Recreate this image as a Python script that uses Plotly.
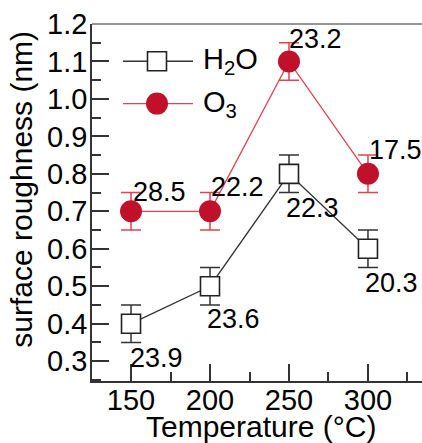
import plotly.graph_objects as go

temps = [150, 200, 250, 300]
h2o_rough = [0.4, 0.5, 0.8, 0.6]
o3_rough = [0.7, 0.7, 1.1, 0.8]
h2o_err = [0.05, 0.05, 0.05, 0.05]
o3_err = [0.05, 0.05, 0.05, 0.05]
h2o_labels = ["23.9", "23.6", "22.3", "20.3"]
o3_labels = ["28.5", "22.2", "23.2", "17.5"]

FONT = "Liberation Sans, Arial, sans-serif"
RED = "#c0102a"
RED_LINE = "#de4450"

fig = go.Figure()
fig.add_trace(go.Scatter(
    x=temps, y=h2o_rough, mode="lines+markers", name="H<sub>2</sub>O",
    line=dict(color="#333333", width=1.3),
    marker=dict(symbol="square", size=19, color="white",
                line=dict(color="#222222", width=1.6)),
    error_y=dict(type="data", array=h2o_err, color="#333333", thickness=1.5, width=10),
    showlegend=False))
fig.add_trace(go.Scatter(
    x=temps, y=o3_rough, mode="lines+markers", name="O<sub>3</sub>",
    line=dict(color=RED_LINE, width=1.3),
    marker=dict(symbol="circle", size=22, color=RED, line=dict(width=0)),
    error_y=dict(type="data", array=o3_err, color=RED_LINE, thickness=1.5, width=10),
    showlegend=False))

NUM = 27
annots = []
o3_shift = [(28, 19), (27, 24), (27, 22), (28, 24)]
for t, v, lab, (dx, dy) in zip(temps, o3_rough, o3_labels, o3_shift):
    annots.append(dict(x=t, y=v, xref="x", yref="y", text=lab, showarrow=False,
                       xshift=dx, yshift=dy, font=dict(family=FONT, size=NUM, color="black")))
h2o_shift = [(25, -34), (23, -33), (24, -34), (24, -34)]
for t, v, lab, (dx, dy) in zip(temps, h2o_rough, h2o_labels, h2o_shift):
    annots.append(dict(x=t, y=v, xref="x", yref="y", text=lab, showarrow=False,
                       xshift=dx, yshift=dy, font=dict(family=FONT, size=NUM, color="black")))


def px(xp):
    return (xp - 92) / 330


def py(yp):
    return (381 - yp) / 356.5


# axis titles
annots.append(dict(x=px(261), y=py(426), xref="paper", yref="paper",
                   text="Temperature (°C)", showarrow=False,
                   xanchor="center", yanchor="middle",
                   font=dict(family=FONT, size=30, color="black")))
annots.append(dict(x=px(22), y=py(190), xref="paper", yref="paper",
                   text="surface roughness (nm)", showarrow=False, textangle=-90,
                   xanchor="center", yanchor="middle",
                   font=dict(family=FONT, size=30, color="black")))

# manual legend
shapes = []
leg = [(61.7, "H<sub>2</sub>O"), (104, "O<sub>3</sub>")]
shapes.append(dict(type="line", xref="paper", yref="paper", x0=px(123), x1=px(193),
                   y0=py(61.7), y1=py(61.7), line=dict(color="#333333", width=1.3)))
shapes.append(dict(type="rect", xref="paper", yref="paper", xsizemode="pixel", ysizemode="pixel",
                   xanchor=px(157), yanchor=py(61.7), x0=-9.5, x1=9.5, y0=-9.5, y1=9.5,
                   fillcolor="white", line=dict(color="#222222", width=1.6)))
shapes.append(dict(type="line", xref="paper", yref="paper", x0=px(123), x1=px(193),
                   y0=py(104), y1=py(104), line=dict(color=RED_LINE, width=1.3)))
shapes.append(dict(type="circle", xref="paper", yref="paper", xsizemode="pixel", ysizemode="pixel",
                   xanchor=px(157), yanchor=py(104), x0=-11, x1=11, y0=-11, y1=11,
                   fillcolor=RED, line=dict(width=0)))
for yy, txt in leg:
    annots.append(dict(x=px(201), y=py(yy), xref="paper", yref="paper", text=txt,
                       showarrow=False, xanchor="left", yanchor="middle",
                       font=dict(family=FONT, size=29, color="black")))
# top border
shapes.append(dict(type="line", xref="paper", yref="paper", x0=0, x1=1, y0=1, y1=1,
                   line=dict(color="#707070", width=1.5)))

fig.update_layout(
    width=422, height=443,
    margin=dict(l=92, r=0, t=24, b=62),
    paper_bgcolor="white", plot_bgcolor="white",
    annotations=annots, shapes=shapes,
    font=dict(family=FONT, size=28, color="black"),
)
fig.update_xaxes(range=[125.3, 334.2], tick0=150, dtick=50, ticks="inside", ticklen=17,
                 tickwidth=1.5, tickcolor="#333333", showline=True, linecolor="#333333",
                 linewidth=1.5, showgrid=False, zeroline=False, ticklabelstandoff=-8,
                 tickfont=dict(family=FONT, size=29, color="black"),
                 minor=dict(dtick=25, ticks="inside", ticklen=9, tickwidth=1.5,
                            tickcolor="#333333", showgrid=False))
fig.update_yaxes(range=[0.247, 1.2], tick0=0.3, dtick=0.1, tickformat=".1f", ticks="inside",
                 ticklen=17, tickwidth=1.5, tickcolor="#333333", showline=True,
                 linecolor="#333333", linewidth=1.5, showgrid=False, zeroline=False,
                 ticklabelstandoff=-3,
                 tickfont=dict(family=FONT, size=29, color="black"),
                 minor=dict(dtick=0.05, ticks="inside", ticklen=9, tickwidth=1.5,
                            tickcolor="#333333", showgrid=False))

fig.write_html("out.html")
